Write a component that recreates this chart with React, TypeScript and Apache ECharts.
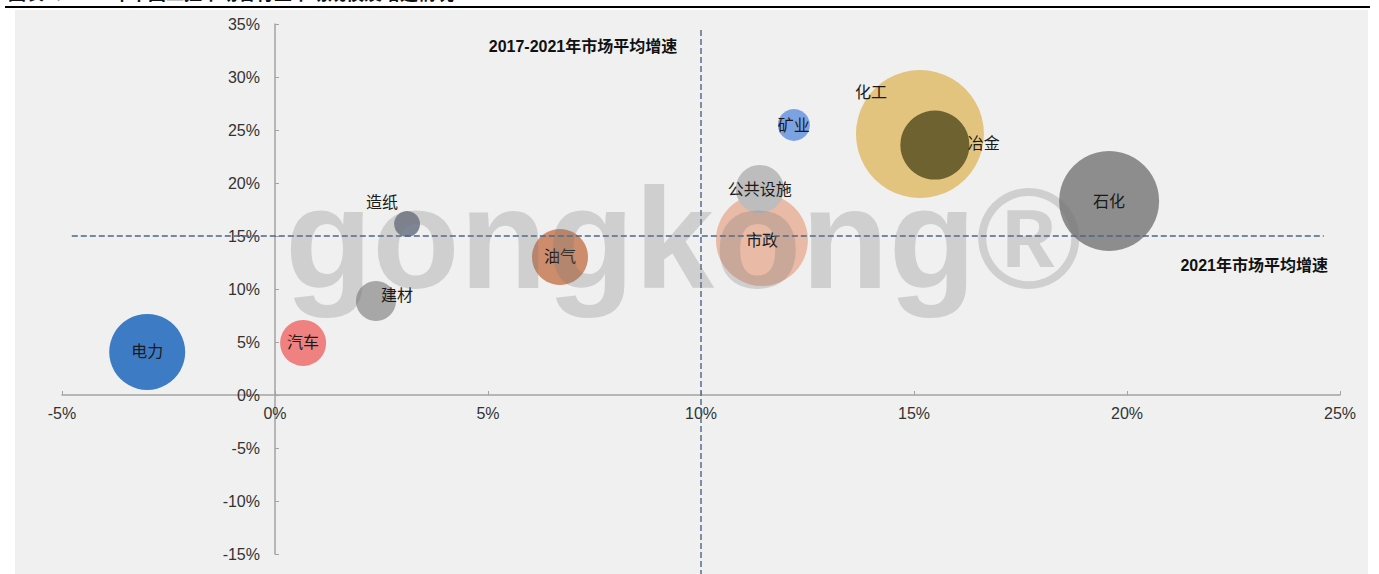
import React, { useEffect, useRef } from 'react';
import * as echarts from 'echarts';

// ---------- data ----------
const categories = ['电力', '汽车', '建材', '造纸', '油气', '市政', '公共设施', '矿业', '化工', '冶金', '石化'];
// x: 2017-2021 average market growth (%)
const avgGrowth1721 = [-3.0, 0.66, 2.37, 3.1, 6.69, 11.43, 11.38, 12.18, 15.14, 15.49, 19.58];
// y: 2021 market growth (%)
const growth2021 = [4.06, 4.91, 8.87, 16.13, 13.02, 14.62, 19.43, 25.47, 24.62, 23.58, 18.3];
// bubble size: relative market size
const marketSize = [361, 132, 100, 42, 196, 529, 144, 64, 1024, 298, 625];

const avgLineX = 10; // 2017-2021 market average growth
const avgLineY = 15; // 2021 market average growth
const vLineYRange = [34.43, -16.9];
const hLineXRange = [-4.77, 24.62];

const xAxisMin = -5;
const xAxisMax = 25;
const yAxisMin = -15;
const yAxisMax = 35;
const tickStep = 5;

const titleText = '图表7：2021年中国工控市场各行业市场规模及增速情况';
const vLineLabel = '2017-2021年市场平均增速';
const hLineLabel = '2021年市场平均增速';
const watermarkText = 'gongkong®';

// ---------- styles / layout ----------
const bubbleColors: Record<string, string> = {
  电力: '#3d7cc4',
  汽车: '#ef8181',
  建材: '#a7a7a7',
  造纸: '#7e8594',
  油气: '#cd8c6c',
  市政: '#e9bba7',
  公共设施: '#bdbdbd',
  矿业: '#7ca2e2',
  化工: '#e3c47f',
  冶金: '#6e6231',
  石化: '#8d8d8d',
};
const labelOffsets: Record<string, number[]> = {
  建材: [21, -5],
  造纸: [-25, -22],
  化工: [-49, -42],
  冶金: [49, -2],
};

const GRID = { left: 62, right: 39, top: 24, bottom: 20 };
const W = 1379;
const H = 574;
const gridW = W - GRID.left - GRID.right;
const gridH = H - GRID.top - GRID.bottom;
// shift the axes so that they cross at the origin
const xAxisOffset = -((0 - yAxisMin) / (yAxisMax - yAxisMin)) * gridH;
const yAxisOffset = -((0 - xAxisMin) / (xAxisMax - xAxisMin)) * gridW;

const FONT = '"Liberation Sans", Arial, "Noto Sans CJK SC", sans-serif';
const CJK_FONT = '"Liberation Sans", "Noto Sans CJK SC", sans-serif';
const AXIS_COLOR = '#a3a3a3';
const REF_LINE_COLOR = '#4b6688';

export default function App() {
  const ref = useRef<HTMLDivElement>(null);

  useEffect(() => {
    document.body.style.margin = '0';
    const chart = echarts.init(ref.current as HTMLDivElement, null, { renderer: 'svg' });

    const bubbleData = categories.map((c, i) => ({
      name: c,
      value: [avgGrowth1721[i], growth2021[i], marketSize[i]],
      itemStyle: { color: bubbleColors[c], opacity: 1 },
      label: { offset: labelOffsets[c] || [0, 0] },
    }));

    const option: any = {
      animation: false,
      backgroundColor: '#ffffff',
      grid: { ...GRID, containLabel: false },
      xAxis: {
        type: 'value',
        position: 'bottom',
        offset: xAxisOffset,
        min: xAxisMin,
        max: xAxisMax,
        interval: tickStep,
        axisLine: { show: true, onZero: false, lineStyle: { color: AXIS_COLOR, width: 1.5 } },
        axisTick: { show: true, inside: true, length: 4, lineStyle: { color: AXIS_COLOR, width: 1 } },
        axisLabel: { formatter: '{value}%', fontSize: 16, color: '#333', margin: 10, fontFamily: FONT },
        splitLine: { show: false },
      },
      yAxis: {
        type: 'value',
        position: 'left',
        offset: yAxisOffset,
        min: yAxisMin,
        max: yAxisMax,
        interval: tickStep,
        axisLine: { show: true, onZero: false, lineStyle: { color: AXIS_COLOR, width: 1.5 } },
        axisTick: { show: true, inside: true, length: 4, lineStyle: { color: AXIS_COLOR, width: 1 } },
        axisLabel: { formatter: '{value}%', fontSize: 16, color: '#333', margin: 15, fontFamily: FONT },
        splitLine: { show: false },
      },
      graphic: [
        {
          type: 'rect',
          z: -100,
          silent: true,
          shape: { x: 15, y: 10, width: 1353, height: 564 },
          style: { fill: '#f0f0f0' },
        },
        {
          type: 'text',
          z: -90,
          silent: true,
          x: 8,
          y: 3,
          style: {
            text: titleText,
            fontSize: 18,
            fontWeight: 'bold',
            fontFamily: CJK_FONT,
            fill: '#111',
            align: 'left',
            verticalAlign: 'bottom',
          },
        },
        {
          type: 'line',
          z: -80,
          silent: true,
          shape: { x1: 5, y1: 7, x2: 1370, y2: 7 },
          style: { stroke: '#000', lineWidth: 2 },
        },
        {
          type: 'text',
          z: 50,
          silent: true,
          x: 583,
          y: 46,
          style: {
            text: vLineLabel,
            fontSize: 16,
            fontWeight: 'bold',
            fontFamily: CJK_FONT,
            fill: '#111',
            align: 'center',
            verticalAlign: 'middle',
          },
        },
        {
          type: 'text',
          z: 50,
          silent: true,
          x: 1328,
          y: 265,
          style: {
            text: hLineLabel,
            fontSize: 16,
            fontWeight: 'bold',
            fontFamily: CJK_FONT,
            fill: '#111',
            align: 'right',
            verticalAlign: 'middle',
          },
        },
        {
          type: 'text',
          z: 100,
          silent: true,
          x: 285,
          y: 238,
          style: {
            text: watermarkText,
            fontSize: 143,
            fontWeight: 'bold',
            fontFamily: '"Liberation Sans", Arial, sans-serif',
            fill: 'rgba(120,120,120,0.27)',
            align: 'left',
            verticalAlign: 'middle',
          },
        },
      ],
      series: [
        {
          type: 'scatter',
          z: 2,
          clip: false,
          data: bubbleData,
          symbolSize: (v: number[]) => 4 * Math.sqrt(v[2]),
          label: {
            show: true,
            position: 'inside',
            formatter: '{b}',
            fontSize: 16,
            color: '#1a1a1a',
            fontFamily: CJK_FONT,
          },
          emphasis: { disabled: true },
        },
        {
          type: 'line',
          z: 3,
          clip: false,
          symbol: 'none',
          silent: true,
          data: [
            [avgLineX, vLineYRange[0]],
            [avgLineX, vLineYRange[1]],
          ],
          lineStyle: { type: [6, 3], color: REF_LINE_COLOR, width: 1.4 },
        },
        {
          type: 'line',
          z: 3,
          clip: false,
          symbol: 'none',
          silent: true,
          data: [
            [hLineXRange[0], avgLineY],
            [hLineXRange[1], avgLineY],
          ],
          lineStyle: { type: [6, 3], color: REF_LINE_COLOR, width: 1.4 },
        },
      ],
    };

    chart.setOption(option);
    return () => chart.dispose();
  }, []);

  return <div ref={ref} style={{ width: W, height: H }} />;
}
